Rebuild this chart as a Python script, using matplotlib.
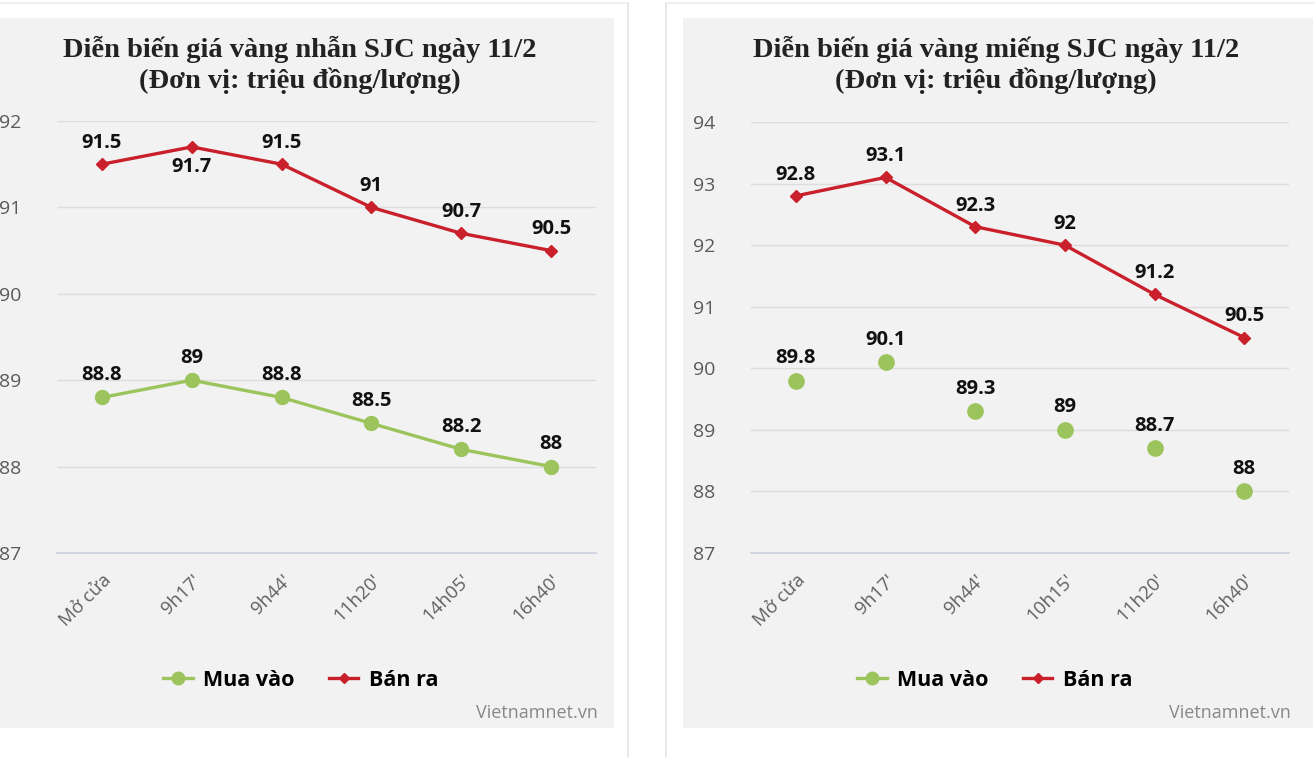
import matplotlib
matplotlib.use('Agg')
import matplotlib.pyplot as plt
from matplotlib.patches import Rectangle
from matplotlib.lines import Line2D

# data
labels_left = ['Mở cửa', "9h17'", "9h44'", "11h20'", "14h05'", "16h40'"]
mua_left = [88.8, 89, 88.8, 88.5, 88.2, 88]
ban_left = [91.5, 91.7, 91.5, 91, 90.7, 90.5]

labels_right = ['Mở cửa', "9h17'", "9h44'", "10h15'", "11h20'", "16h40'"]
mua_right = [89.8, 90.1, 89.3, 89, 88.7, 88]
ban_right = [92.8, 93.1, 92.3, 92, 91.2, 90.5]

title_left = 'Diễn biến giá vàng nhẫn SJC ngày 11/2\n(Đơn vị: triệu đồng/lượng)'
title_right = 'Diễn biến giá vàng miếng SJC ngày 11/2\n(Đơn vị: triệu đồng/lượng)'

GREEN = '#9cc45c'
RED = '#c9202b'
W, H = 1315, 757

fig = plt.figure(figsize=(W / 100, H / 100), dpi=100)
fig.patch.set_facecolor('white')


def px(x0, y0, x1, y1):
    # pixel box (top-left origin) -> figure fraction rect
    return [x0 / W, 1 - y1 / H, (x1 - x0) / W, (y1 - y0) / H]


# cards and gray panels
fig.add_artist(Line2D([628 / W, 628 / W], [0, 1 - 3 / H], color='#e4e4e4', lw=1.2))
fig.add_artist(Line2D([0, 628 / W], [1 - 3 / H, 1 - 3 / H], color='#ececec', lw=1.2))
fig.add_artist(Line2D([666 / W, 666 / W], [0, 1 - 3 / H], color='#e4e4e4', lw=1.2))
fig.add_artist(Line2D([666 / W, 1], [1 - 3 / H, 1 - 3 / H], color='#ececec', lw=1.2))
for x0, x1 in [(0, 614), (683, 1313)]:
    fig.add_artist(Rectangle((x0 / W, 1 - 728 / H), (x1 - x0) / W, 710 / H,
                             transform=fig.transFigure, facecolor='#f2f2f2',
                             edgecolor='none', zorder=0))


def draw(box, cats, mua, ban, ylim, title, title_cx, legend_cx, mua_line, below):
    ax = fig.add_axes(px(*box))
    ax.set_facecolor('none')
    x = list(range(len(cats)))
    if mua_line:
        ax.plot(x, mua, color=GREEN, lw=2.4, marker='o', ms=10, zorder=3)
    else:
        ax.plot(x, mua, color=GREEN, lw=0, marker='o', ms=11, zorder=3)
    ax.plot(x, ban, color=RED, lw=2.4, marker='D', ms=6.5, zorder=3)
    for i, v in enumerate(mua):
        ax.annotate(f'{v:g}', (i, v), xytext=(0, 9), textcoords='offset points',
                    ha='center', va='bottom', fontsize=14.5, fontweight='bold',
                    family='Open Sans', color='#111111')
    for i, v in enumerate(ban):
        dy = -7 if i in below else 8
        ax.annotate(f'{v:g}', (i, v), xytext=(0, dy), textcoords='offset points',
                    ha='center', va='top' if i in below else 'bottom', fontsize=14.5,
                    fontweight='bold', family='Open Sans', color='#111111')
    ax.set_xlim(-0.5, len(cats) - 0.5)
    ax.set_ylim(*ylim)
    ax.set_yticks(range(ylim[0], ylim[1] + 1))
    ax.grid(axis='y', color='#dddddd', lw=1)
    ax.set_axisbelow(True)
    for s in ['top', 'right', 'left']:
        ax.spines[s].set_visible(False)
    ax.spines['bottom'].set_color('#ccd0e0')
    ax.spines['bottom'].set_linewidth(1.2)
    ax.tick_params(axis='y', length=0, pad=26, labelsize=14, labelcolor='#5a5a5a')
    ax.tick_params(axis='x', length=0, pad=13, labelsize=13.5, labelcolor='#606060')
    for t in ax.get_yticklabels():
        t.set_family('Open Sans')
    ax.set_xticks(x)
    ax.set_xticklabels(cats, rotation=45, ha='right', rotation_mode='anchor',
                       family='Open Sans')
    fig.text(title_cx / W, 1 - 65 / H, title, ha='center', va='center',
             family='Liberation Serif', fontweight='bold', fontsize=20.5,
             color='#222222', linespacing=1.2)
    handles = [Line2D([], [], color=GREEN, lw=2.4, marker='o', ms=9),
               Line2D([], [], color=RED, lw=2.4, marker='D', ms=5.5)]
    fig.legend(handles, ['Mua vào', 'Bán ra'], loc='center',
               bbox_to_anchor=(legend_cx / W, 1 - 680 / H), ncol=2, frameon=False,
               handlelength=1.35, handletextpad=0.5, columnspacing=1.6,
               prop={'family': 'Open Sans', 'weight': 'bold', 'size': 15.5})
    fig.text((box[2] + 2) / W, 1 - 713 / H, 'Vietnamnet.vn', ha='right', va='center',
             family='Open Sans', fontsize=13, color='#888888')
    return ax


draw((57, 121, 596, 553), labels_left, mua_left, ban_left, (87, 92),
     title_left, 300, 301, True, below={1})
draw((751, 122, 1289, 553), labels_right, mua_right, ban_right, (87, 94),
     title_right, 996, 995, False, below=set())

fig.savefig('out.png', dpi=100, facecolor='white')
